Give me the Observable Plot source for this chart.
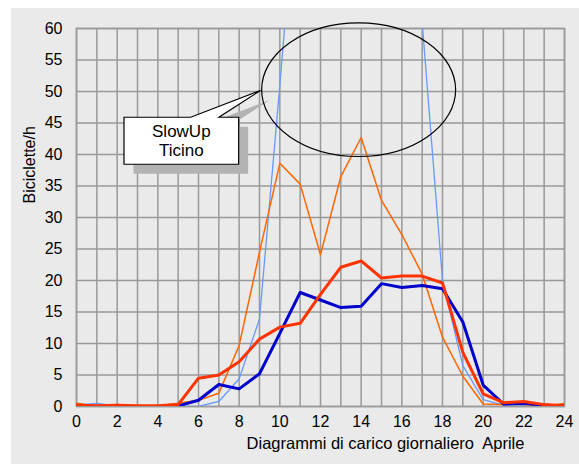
<!DOCTYPE html>
<html><head><meta charset="utf-8">
<script src="https://cdn.jsdelivr.net/npm/d3@7"></script>
<script src="https://cdn.jsdelivr.net/npm/@observablehq/plot@0.6"></script>
<style>html,body{margin:0;padding:0;background:#fff;overflow:hidden}svg{display:block}</style>
</head><body><div id="chart"></div>
<script>
// Data
const hours = [0,1,2,3,4,5,6,7,8,9,10,11,12,13,14,15,16,17,18,19,20,21,22,23,24];
const xTicks = [0,2,4,6,8,10,12,14,16,18,20,22,24];
const yTicks = [0,5,10,15,20,25,30,35,40,45,50,55,60];
const slowUpLight = [0.2,0.5,0.1,0,0,0,0,0.8,4.4,13.9,51,90,115,125,120,105,85,61,20,6.5,1.1,0.2,0.1,0,0];
const slowUpOrange = [0.5,0.1,0.3,0.1,0.1,0.5,1.0,2.1,9.7,24.5,38.6,35.3,24.1,36.5,42.7,32.7,27.3,21.0,11.0,4.8,0.4,0.3,0.3,0.1,0.5];
const blueSeries = [0.1,0,0,0,0,0.1,1.0,3.5,2.8,5.2,11.6,18.1,16.9,15.7,15.9,19.5,18.9,19.2,18.7,13.4,3.4,0.4,0.5,0.2,0.1];
const redSeries = [0.2,0.1,0.2,0.1,0.1,0.3,4.5,5.0,7.1,10.7,12.6,13.2,17.8,22.1,23.1,20.4,20.7,20.7,19.6,8.6,2.0,0.6,0.8,0.3,0.1];
const yTitle = "Biciclette/h";
const xTitle = "Diagrammi di carico giornaliero  Aprile";
const calloutLines = ["SlowUp", "Ticino"];

const toRows = vals => hours.map((h, i) => ({h, v: vals[i]}));
const font = "'Liberation Sans', Arial, sans-serif";

const chart = Plot.plot({
  width: 579, height: 464,
  marginLeft: 76, marginRight: 15, marginTop: 28, marginBottom: 58,
  x: {domain: [0, 24]},
  y: {domain: [0, 60]},
  style: {background: "#fff", fontFamily: font, fontSize: "16px", color: "#000"},
  marks: [
    Plot.gridX(hours, {stroke: "#999", strokeOpacity: 1, strokeWidth: 1.5}),
    Plot.gridY(yTicks, {stroke: "#999", strokeOpacity: 1, strokeWidth: 1.5}),
    Plot.frame({stroke: "#999", strokeWidth: 1.5}),
    Plot.axisX(xTicks, {tickSize: 0, tickPadding: 9, fontSize: 16, label: null}),
    Plot.axisY(yTicks, {tickSize: 0, tickPadding: 14, fontSize: 16, label: null}),
    Plot.lineY(toRows(slowUpLight), {x: "h", y: "v", stroke: "#6699FF", strokeWidth: 1.3, clip: true}),
    Plot.lineY(toRows(slowUpOrange), {x: "h", y: "v", stroke: "#FF6600", strokeWidth: 1.5, clip: true}),
    Plot.lineY(toRows(blueSeries), {x: "h", y: "v", stroke: "#0000CC", strokeWidth: 3, clip: true}),
    Plot.lineY(toRows(redSeries), {x: "h", y: "v", stroke: "#FF3300", strokeWidth: 3, clip: true}),
    Plot.text([xTitle], {frameAnchor: "bottom", dx: 65, dy: 42, fontSize: 16.5, fill: "#000"}),
    Plot.text([yTitle], {frameAnchor: "left", dx: -47, dy: -14, rotate: -90, fontSize: 16, fill: "#000"})
  ]
});

document.getElementById("chart").appendChild(chart);
const svg = d3.select(chart);
svg.insert("rect", ":first-child")
  .attr("x", 11).attr("y", 8).attr("width", 568).attr("height", 456).attr("fill", "#eaeaea");

// Annotation positioned through the scales
const xs = chart.scale("x"), ys = chart.scale("y");
const ell = {cx: 13.9, cy: 50.2, rx: 4.77, ry: 10.6};
const box = {x0: 2.36, x1: 8.0, y0: 45.83, y1: 38.37, p0: 5.64, p1: 7.03, tipX: 9.07, tipY: 50.08};
const bx0 = xs.apply(box.x0), bx1 = xs.apply(box.x1), by0 = ys.apply(box.y0), by1 = ys.apply(box.y1);
const pts = [[bx0, by0], [xs.apply(box.p0), by0], [xs.apply(box.tipX), ys.apply(box.tipY)], [xs.apply(box.p1), by0], [bx1, by0], [bx1, by1], [bx0, by1]];
const path = "M" + pts.map(p => p.join(",")).join("L") + "Z";
const g = svg.append("g");
g.append("path").attr("d", path).attr("fill", "#b3b3b3").attr("transform", "translate(9.5,9.5)");
g.append("path").attr("d", path).attr("fill", "#fff").attr("stroke", "#000").attr("stroke-width", 1.2);
const cx = xs.apply(ell.cx), cy = ys.apply(ell.cy);
g.append("ellipse").attr("cx", cx).attr("cy", cy)
  .attr("rx", xs.apply(ell.cx + ell.rx) - cx).attr("ry", cy - ys.apply(ell.cy + ell.ry))
  .attr("fill", "none").attr("stroke", "#000").attr("stroke-width", 1.2);
calloutLines.forEach((t, i) => {
  g.append("text").attr("x", (bx0 + bx1) / 2).attr("y", by0 + 20 + i * 18.7)
    .attr("text-anchor", "middle").attr("font-family", font).attr("font-size", 17).attr("fill", "#000").text(t);
});
</script></body></html>
